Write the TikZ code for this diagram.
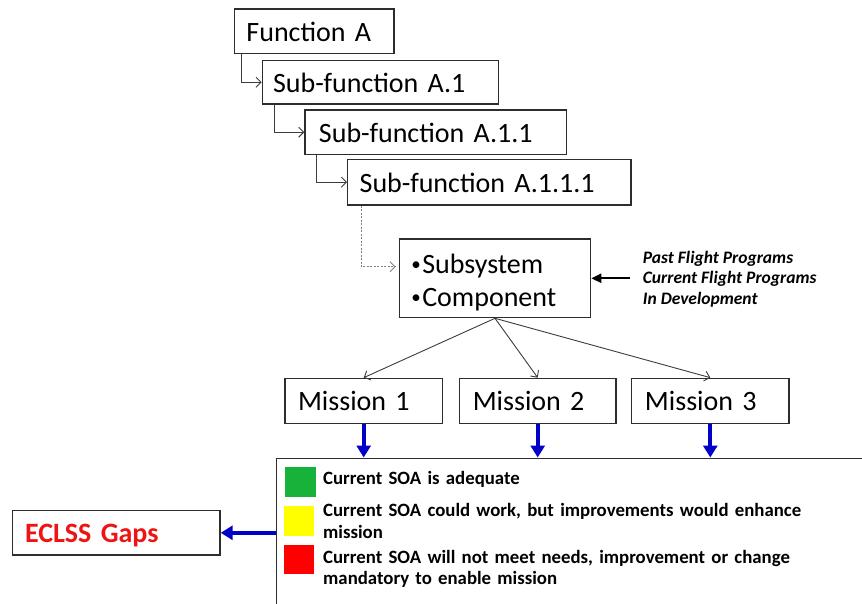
\documentclass[tikz,border=0pt]{standalone}
\usepackage{fontspec}
\setmainfont{Carlito}
\usetikzlibrary{arrows.meta}

\definecolor{boxline}{RGB}{45,45,45}
\definecolor{linkgray}{RGB}{60,60,60}
\definecolor{flowblue}{RGB}{0,0,200}
\definecolor{soagreen}{RGB}{22,178,58}
\definecolor{soayellow}{RGB}{255,255,0}
\definecolor{soared}{RGB}{255,0,0}
\definecolor{gapred}{RGB}{238,20,20}

% small list bullet, set at the height of the lower-case letters
\newcommand{\listdot}{\raisebox{3.2pt}{\fontsize{19}{19}\selectfont •}\hspace{1.5pt}}

\tikzset{
  box/.style={draw=boxline, line width=1.3pt, inner ysep=0pt, align=left,
    text height=20pt, text depth=0pt, font=\fontsize{28}{33.5}\selectfont},
  % width, height, horizontal padding
  dims/.style n args={3}{minimum width=#1pt, minimum height=#2pt,
    inner xsep=#3pt, text width={#1pt-2*#3pt}},
  link/.style={draw=linkgray, line width=0.9pt,
    -{Straight Barb[length=5pt,width=10pt]}},
  feed/.style={draw=black, line width=2.3pt, -{Triangle[length=10pt,width=9pt]}},
  bluearrow/.style={draw=flowblue, line width=4pt,
    -{Triangle[length=12pt,width=14pt]}},
  swatch/.style={draw=none, inner sep=0pt},
  legendtext/.style={anchor=base west, inner sep=0pt, align=left,
    text width=530pt, font=\fontsize{18.8}{21.8}\selectfont\bfseries},
}

\begin{document}
\begin{tikzpicture}[x=1pt, y=-1pt]
  \useasboundingbox (0,0) rectangle (862,603);
  \clip (0,0) rectangle (862,603);

  % functional breakdown
  \node[box, dims={159.5}{44.3}{12}] (fa) at (314.2,31.2) {Function A};
  \node[box, dims={236}{43.5}{10.7}] (sa1) at (380.3,82.3) {Sub-function A.1};
  \node[box, dims={261.7}{44.3}{14}] (sa11) at (435.8,132.2) {Sub-function A.1.1};
  \node[box, dims={283.3}{45.7}{12}] (sa111) at (489.3,182.2) {Sub-function A.1.1.1};

  % hardware level
  \node[box, dims={191.4}{78.7}{12}, text height=28pt, text depth=,
        font=\fontsize{28}{33.5}\selectfont] (sub) at (495,278.3)
        {\listdot Subsystem\\\listdot Component};

  \node[anchor=base west, inner xsep=12.7pt, inner ysep=0pt, align=left,
        font=\fontsize{17.5}{20.6}\selectfont\bfseries\itshape] (src) at (630,304.3)
        {Past Flight Programs\\Current Flight Programs\\In Development};

  % missions
  \node[box, dims={157.3}{45}{13}] (m1) at (363.7,400.8) {Mission 1};
  \node[box, dims={156.7}{45}{13.4}] (m2) at (537.7,400.8) {Mission 2};
  \node[box, dims={157.3}{45}{13.3}] (m3) at (710.3,400.8) {Mission 3};

  % state-of-the-art assessment
  \node[draw=boxline, line width=1.4pt, anchor=north west, inner sep=0pt,
        minimum width=640pt, minimum height=180pt] (soa) at (275.5,457.5) {};
  \node[swatch, fill=soagreen, minimum width=30.7pt, minimum height=29.7pt] (sw1) at (300.4,481.9) {};
  \node[swatch, fill=soayellow, minimum width=30.3pt, minimum height=29.7pt] (sw2) at (298.9,520.9) {};
  \node[swatch, fill=soared, minimum width=30.3pt, minimum height=29pt] (sw3) at (298.9,559.5) {};
  \node[legendtext] (t1) at (323,484.3) {Current SOA is adequate};
  \node[legendtext] (t2) at (323,516.7) {Current SOA could work, but improvements would enhance\\mission};
  \node[legendtext] (t3) at (323,563) {Current SOA will not meet needs, improvement or change\\mandatory to enable mission};

  \node[box, dims={207.7}{44.3}{12.7}, text=gapred,
        font=\fontsize{28}{33.5}\selectfont\bfseries] (ecl) at (116.2,532.8) {ECLSS Gaps};

  % connectors
  \draw[link] ([xshift=7.2pt]fa.south west) |- (sa1.west);
  \draw[link] ([xshift=12.7pt]sa1.south west) |- (sa11.west);
  \draw[link] ([xshift=12.3pt]sa11.south west) |- (sa111.west);
  \draw[link, draw=gray, dash pattern=on 2pt off 1.5pt, shorten >=3pt]
    ([xshift=14pt]sa111.south west) |- ([yshift=11.6pt]sub.west);

  \draw[feed] (src.west |- sub.east) -- (sub.east);

  \draw[link] (sub.south) -- (m1.north);
  \draw[link] (sub.south) -- (m2.north);
  \draw[link] (sub.south) -- (m3.north);

  \draw[bluearrow] (m1.south) -- (m1.south |- soa.north);
  \draw[bluearrow] (m2.south) -- (m2.south |- soa.north);
  \draw[bluearrow] (m3.south) -- (m3.south |- soa.north);
  \draw[bluearrow] (soa.west |- ecl.east) -- (ecl.east);
\end{tikzpicture}
\end{document}
